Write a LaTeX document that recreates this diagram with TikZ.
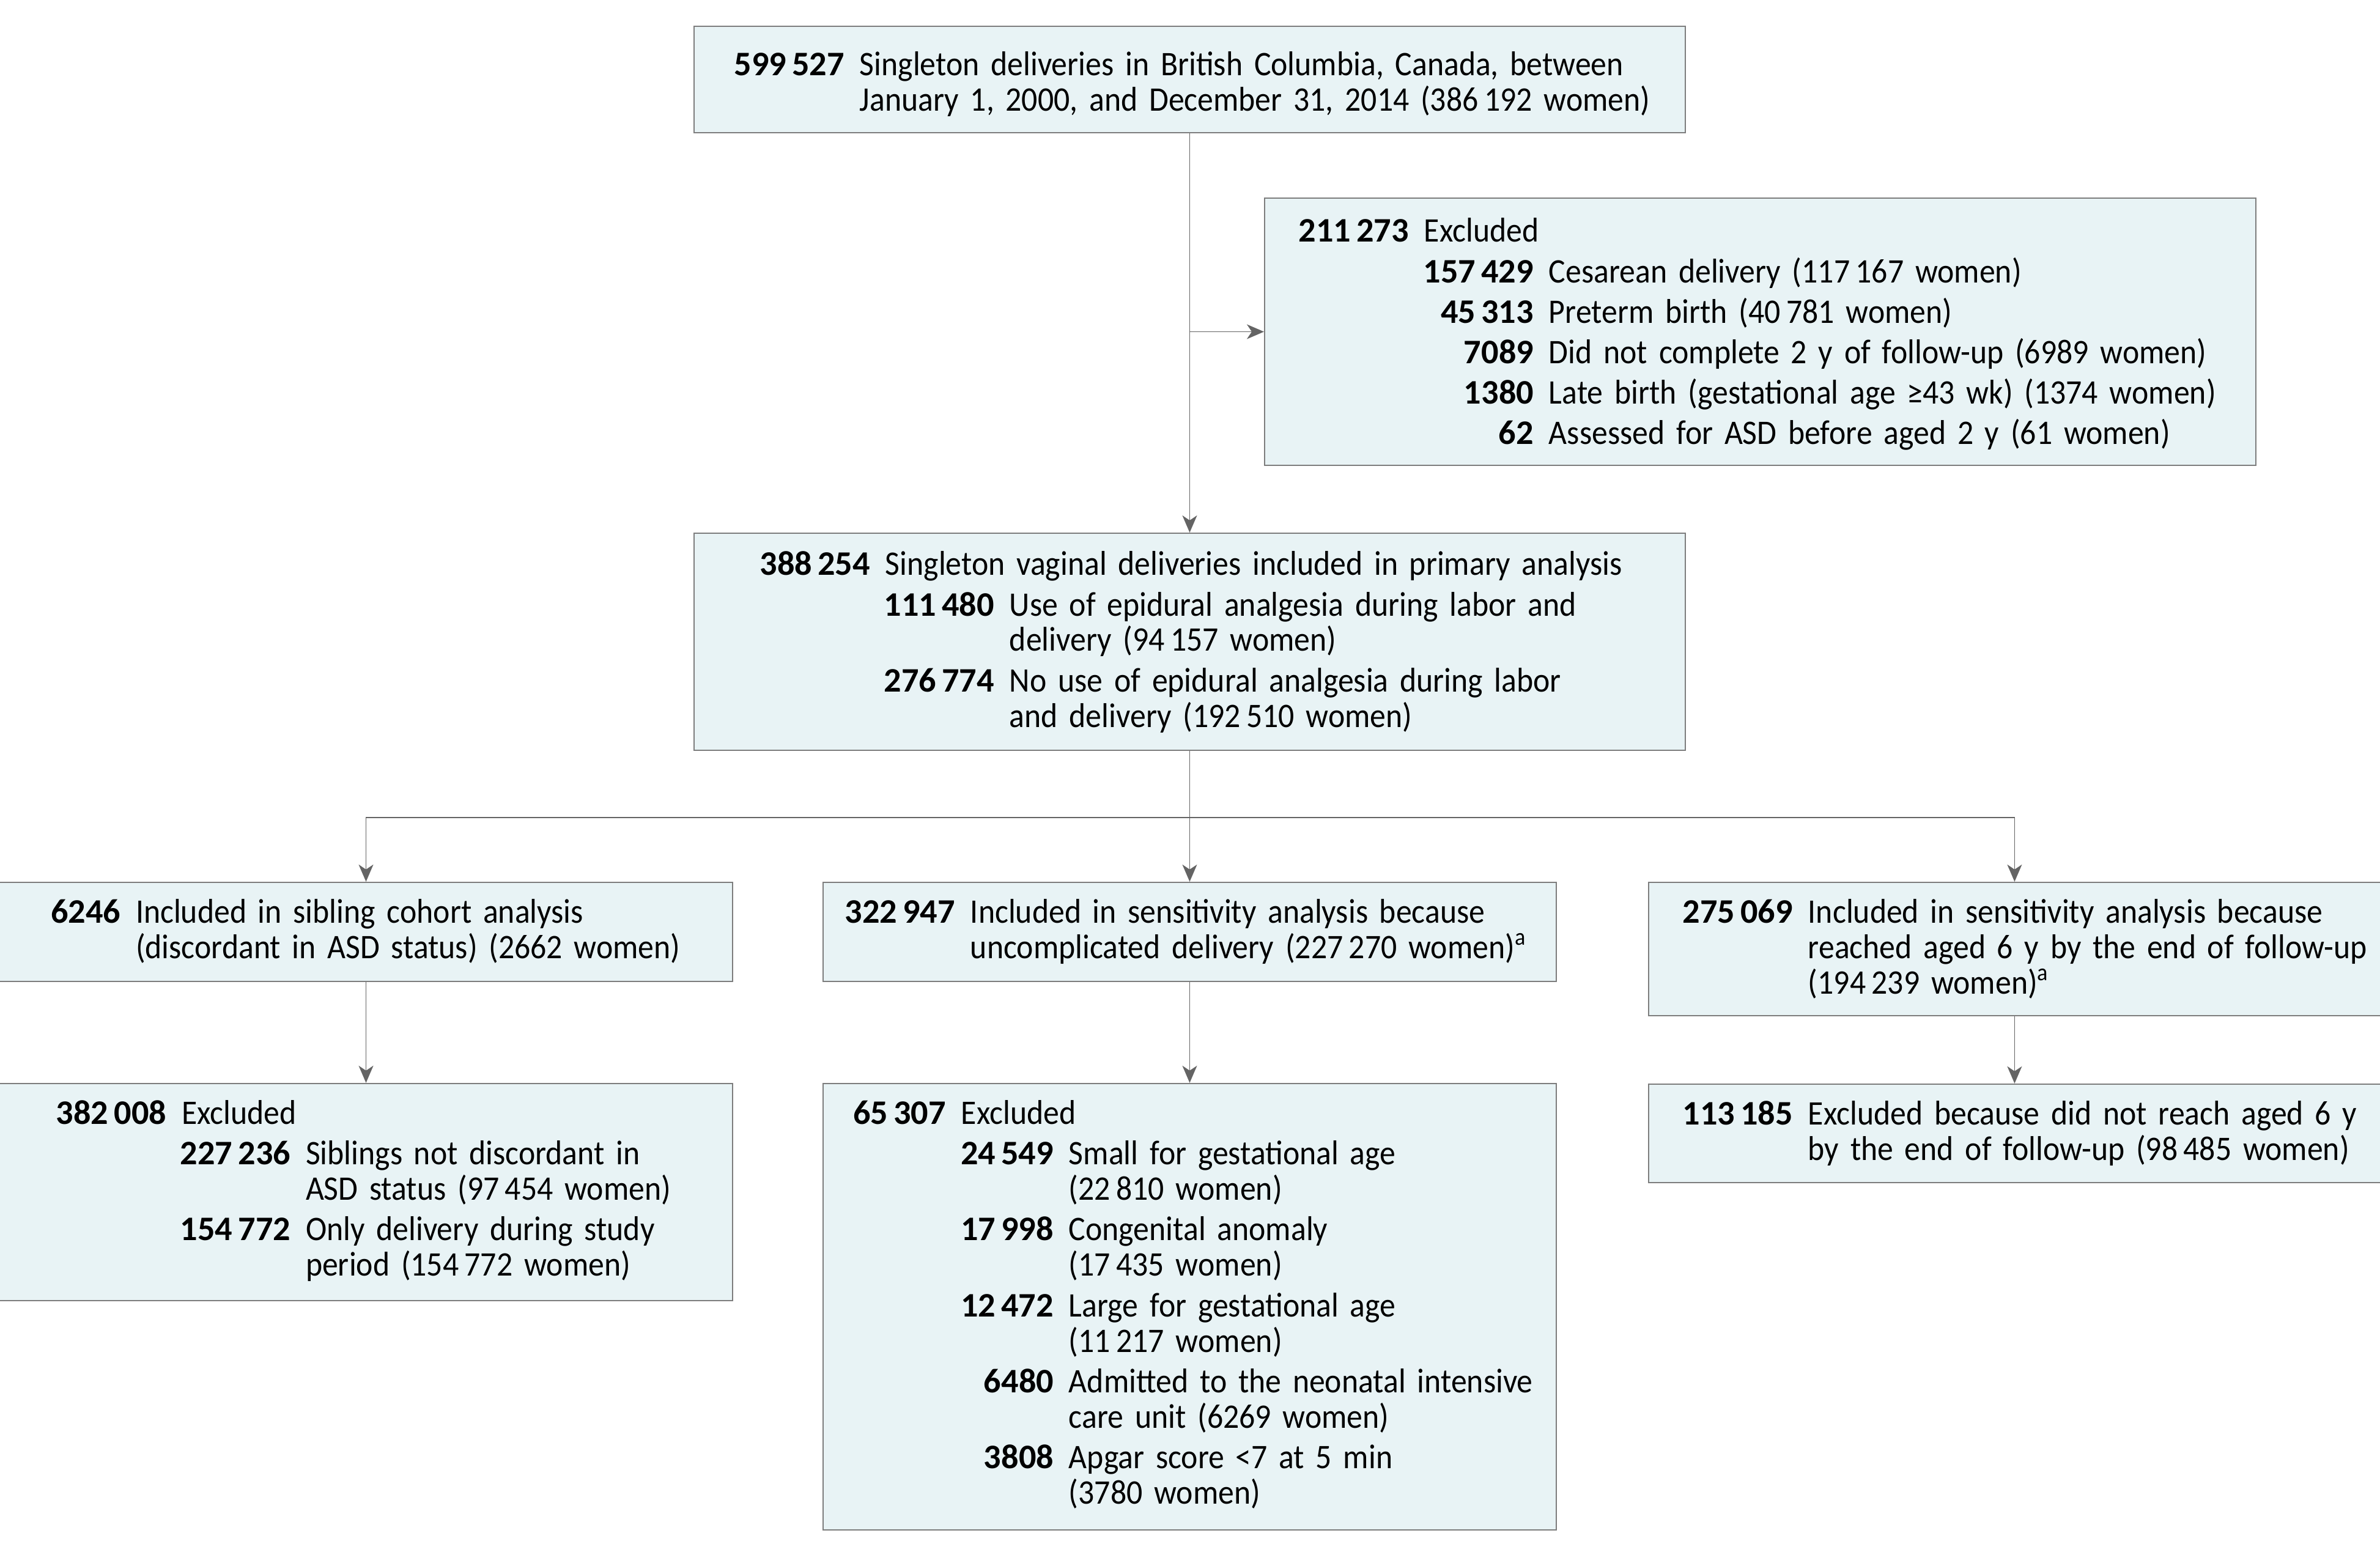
\documentclass[tikz,border=0pt]{standalone}
\usepackage{fontspec}
\setmainfont{Carlito}[UprightFeatures={FakeStretch=0.92}]
\usetikzlibrary{positioning,arrows.meta}
\definecolor{boxfill}{RGB}{232,243,245}
\definecolor{boxline}{RGB}{125,125,125}
\definecolor{arrowgray}{RGB}{100,100,100}
\tikzset{flowbox/.style={
        draw=boxline,
        fill=boxfill,
        line width=0.55pt,
        inner sep=0pt,
        font=\fontsize{16pt}{16.5pt}\selectfont},
    % width, height, first baseline below the top
    boxsize/.style n args={3}{
        text width=#1,
        execute at begin node={\begin{minipage}[c][#2][t]{#1}\rule{0pt}{#3}},
        execute at end node={\end{minipage}}},
    flowline/.style={
        draw=arrowgray,
        line width=0.5pt},
    flowarrow/.style={
        flowline,
        -{Stealth[length=0.28cm,width=0.24cm,inset=0.08cm]}}}
% bold count right-aligned in a column, then its text
\newcommand{\ent}[3]{\makebox[#1][r]{\bfseries #2}\hspace{0.25cm}#3}
% next line of the same entry
\newcommand{\cont}[2]{\hspace*{\dimexpr#1+0.25cm\relax}#2}
\lineskiplimit=-20pt

\begin{document}
\begin{tikzpicture}
\useasboundingbox (0,0) rectangle (38.92,-25.42);

\node[flowbox, boxsize={16.21cm}{1.74cm}{0.81cm}, anchor=north west] (top) at (11.34,-0.42)
{\ent{2.46cm}{599\,527}{Singleton deliveries in British Columbia, Canada, between}\\
\cont{2.46cm}{January 1, 2000, and December 31, 2014 (386\,192 women)}};

\node[flowbox, boxsize={16.21cm}{4.37cm}{0.72cm}, anchor=north west] (excl1) at (20.67,-3.23)
{\ent{2.36cm}{211\,273}{Excluded}\\[2.3pt]
\ent{4.40cm}{157\,429}{Cesarean delivery (117\,167 women)}\\[2.3pt]
\ent{4.40cm}{45\,313}{Preterm birth (40\,781 women)}\\[2.3pt]
\ent{4.40cm}{7089}{Did not complete 2 y of follow-up (6989 women)}\\[2.3pt]
\ent{4.40cm}{1380}{Late birth (gestational age ≥43 wk) (1374 women)}\\[2.3pt]
\ent{4.40cm}{62}{Assessed for ASD before aged 2 y (61 women)}};

\node[flowbox, boxsize={16.21cm}{3.55cm}{0.69cm}, below=6.53cm of top] (prim)
{\ent{2.88cm}{388\,254}{Singleton vaginal deliveries included in primary analysis}\\[2.3pt]
\ent{4.91cm}{111\,480}{Use of epidural analgesia during labor and}\\
\cont{4.91cm}{delivery (94\,157 women)}\\[2.3pt]
\ent{4.91cm}{276\,774}{No use of epidural analgesia during labor}\\
\cont{4.91cm}{and delivery (192\,510 women)}};

\node[flowbox, boxsize={11.99cm}{1.62cm}{0.67cm}, below=2.14cm of prim] (sens1)
{\ent{2.16cm}{322\,947}{Included in sensitivity analysis because}\\
\cont{2.16cm}{uncomplicated delivery (227\,270 women)\textsuperscript{a}}};

\node[flowbox, boxsize={11.99cm}{1.62cm}{0.67cm}, left=1.46cm of sens1] (sib)
{\ent{1.98cm}{6246}{Included in sibling cohort analysis}\\
\cont{1.98cm}{(discordant in ASD status) (2662 women)}};

\node[flowbox, boxsize={11.97cm}{2.18cm}{0.67cm}, right=1.49cm of sens1.north east, anchor=north west] (sens2)
{\ent{2.36cm}{275\,069}{Included in sensitivity analysis because}\\
\cont{2.36cm}{reached aged 6 y by the end of follow-up}\\
\cont{2.36cm}{(194\,239 women)\textsuperscript{a}}};

\node[flowbox, boxsize={11.99cm}{3.55cm}{0.67cm}, below=1.65cm of sib] (exsib)
{\ent{2.73cm}{382\,008}{Excluded}\\[2.3pt]
\ent{4.76cm}{227\,236}{Siblings not discordant in}\\
\cont{4.76cm}{ASD status (97\,454 women)}\\[2.3pt]
\ent{4.76cm}{154\,772}{Only delivery during study}\\
\cont{4.76cm}{period (154\,772 women)}};

\node[flowbox, boxsize={11.99cm}{7.30cm}{0.67cm}, below=1.65cm of sens1] (exsens1)
{\ent{2.01cm}{65\,307}{Excluded}\\[2.3pt]
\ent{3.77cm}{24\,549}{Small for gestational age}\\
\cont{3.77cm}{(22\,810 women)}\\[2.3pt]
\ent{3.77cm}{17\,998}{Congenital anomaly}\\
\cont{3.77cm}{(17\,435 women)}\\[2.3pt]
\ent{3.77cm}{12\,472}{Large for gestational age}\\
\cont{3.77cm}{(11\,217 women)}\\[2.3pt]
\ent{3.77cm}{6480}{Admitted to the neonatal intensive}\\
\cont{3.77cm}{care unit (6269 women)}\\[2.3pt]
\ent{3.77cm}{3808}{Apgar score <7 at 5 min}\\
\cont{3.77cm}{(3780 women)}};

\node[flowbox, boxsize={11.97cm}{1.61cm}{0.67cm}, below=1.10cm of sens2] (exsens2)
{\ent{2.36cm}{113\,185}{Excluded because did not reach aged 6 y}\\
\cont{2.36cm}{by the end of follow-up (98\,485 women)}};

\coordinate[below=1.09cm of prim.south] (fork);

\draw[flowarrow] (top.south) -- (prim.north);
\draw[flowarrow] (top.south |- excl1.west) -- (excl1.west);
\draw[flowline] (prim.south) -- (fork);
\draw[flowarrow] (fork) -| (sib.north);
\draw[flowarrow] (fork) -- (sens1.north);
\draw[flowarrow] (fork) -| (sens2.north);
\draw[flowarrow] (sib.south) -- (exsib.north);
\draw[flowarrow] (sens1.south) -- (exsens1.north);
\draw[flowarrow] (sens2.south) -- (exsens2.north);

\end{tikzpicture}
\end{document}
